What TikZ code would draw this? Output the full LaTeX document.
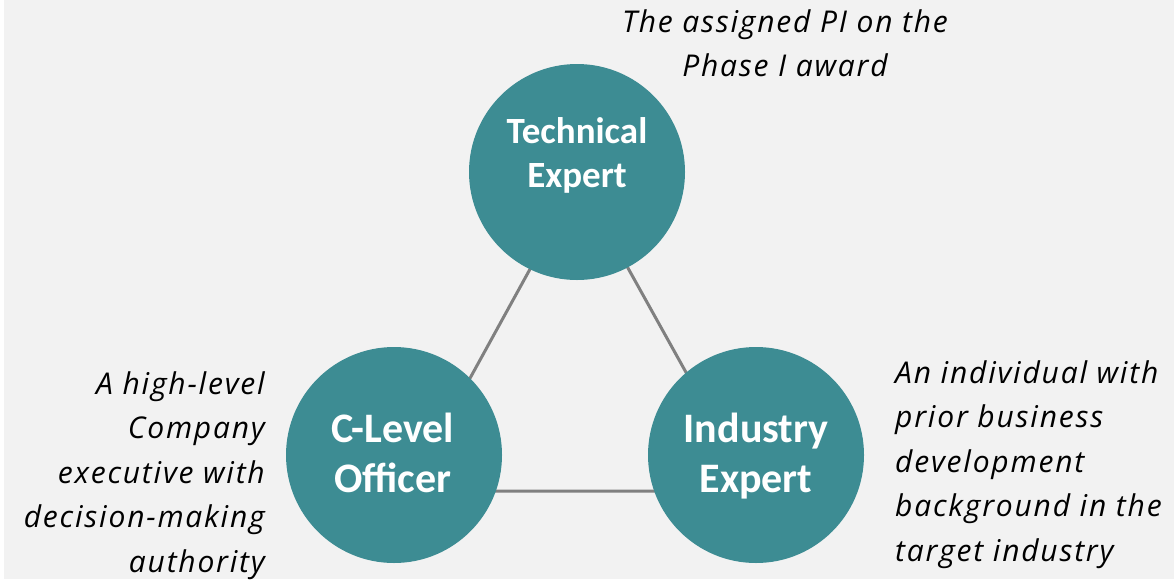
\documentclass[tikz,border=0pt]{standalone}
\usepackage{fontspec}
\setmainfont{Carlito}
\newfontfamily\notefont[LetterSpace=6]{Open Sans}
\definecolor{roleteal}{HTML}{3D8C93}
\definecolor{bggray}{HTML}{F2F2F2}
\definecolor{linkgray}{HTML}{808080}

\begin{document}
\begin{tikzpicture}[x=1pt,y=-1pt,
  role/.style={circle,fill=roleteal,minimum size=216pt,inner sep=0pt},
  rolename/.style={text=white,align=center,inner sep=0pt,anchor=north},
  note/.style={font=\notefont\itshape\fontsize{30}{44.5}\selectfont,inner sep=0pt},
  link/.style={draw=linkgray,line width=3pt}]
  % canvas
  \useasboundingbox (0,0) rectangle (1174,579);
  \fill[white] (0,0) rectangle (1174,579);
  \fill[bggray] (4,0) rectangle (1174,579);
  % triangle behind the circles
  \coordinate (apexT) at (579,180);
  \coordinate (apexL) at (408,491);
  \coordinate (apexR) at (752,491);
  \draw[link] (apexT) -- (apexL) -- (apexR) -- cycle;
  % roles
  \node[role] (tech) at (577,172) {};
  \node[role] (clevel) at (394,455) {};
  \node[role] (indus) at (756,455) {};
  \node[rolename,font=\bfseries\fontsize{37}{44}\selectfont] (techname) at (577,112) {\strut Technical\\Expert};
  \node[rolename,font=\bfseries\fontsize{42}{50}\selectfont] (clevelname) at (393,407) {\strut C-Level\\Officer};
  \node[rolename,font=\bfseries\fontsize{42}{50}\selectfont] (indusname) at (756,407) {\strut Industry\\Expert};
  % descriptions
  \node[note,anchor=north,align=center] (technote) at (785,1) {\strut The assigned PI on the\\Phase I award};
  \node[note,anchor=north east,align=right] (clevelnote) at (265,363) {\strut A high-level\\Company\\executive with\\decision-making\\authority};
  \node[note,anchor=north west,align=left] (indusnote) at (895,352) {\strut An individual with\\prior business\\development\\background in the\\target industry};
\end{tikzpicture}
\end{document}
